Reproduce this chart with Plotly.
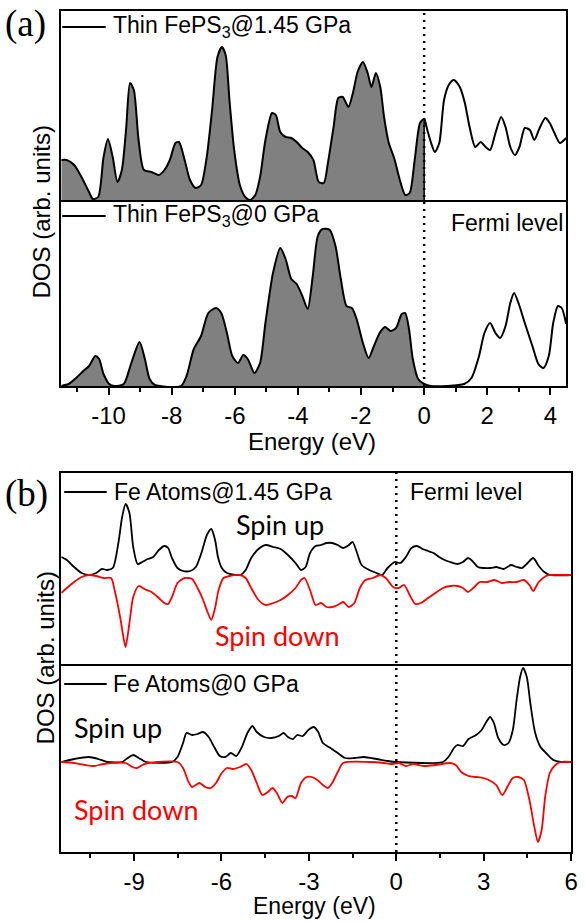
import plotly.graph_objects as go

W, H = 585, 923

# ---------------- Panel (a): total DOS of thin FePS3 ----------------
a_hp_e = [-11.5, -11.33, -11.09, -10.86, -10.62, -10.5, -10.33, -10.16, -10.02, -9.87, -9.72, -9.58,
          -9.44, -9.32, -9.2, -9.05, -8.88, -8.64, -8.41, -8.23, -8.06, -7.88, -7.77, -7.59, -7.42,
          -7.24, -7.07, -6.89, -6.72, -6.55, -6.41, -6.29, -6.17, -6.02, -5.84, -5.67, -5.52, -5.35,
          -5.2, -5.03, -4.82, -4.7, -4.56, -4.39, -4.21, -4.04, -3.86, -3.69, -3.51, -3.34, -3.18,
          -3.05, -2.87, -2.72, -2.58, -2.4, -2.25, -2.11, -1.94, -1.79, -1.67, -1.53, -1.39, -1.27,
          -1.12, -0.95, -0.77, -0.6, -0.46, -0.3, -0.13, 0.0, 0.1, 0.22, 0.34, 0.48, 0.63, 0.78,
          0.94, 1.13, 1.29, 1.44, 1.62, 1.79, 1.95, 2.09, 2.26, 2.44, 2.58, 2.73, 2.88, 3.02, 3.19,
          3.35, 3.49, 3.66, 3.84, 3.98, 4.13, 4.3, 4.5]
a_hp_dos = [42, 42, 37, 25, 10, 3, 5, 45, 63, 45, 20, 32,
            75, 119, 112, 62, 32, 30, 27, 32, 42, 59, 60, 42, 22,
            14, 17, 45, 92, 145, 155, 147, 102, 52, 17, 5, 2, 7,
            25, 62, 89, 87, 70, 65, 64, 60, 54, 50, 42, 20, 19,
            39, 75, 104, 105, 95, 110, 130, 140, 129, 115, 129, 115, 85,
            59, 44, 22, 7, 9, 42, 79, 83, 72, 59, 50, 59, 102, 117,
            122, 115, 99, 75, 55, 60, 55, 52, 69, 85, 75, 55, 47, 55, 74,
            72, 62, 74, 84, 79, 69, 59, 64]

a_0_e = [-11.5, -11.27, -11.03, -10.8, -10.62, -10.42, -10.3, -10.16, -9.98, -9.81, -9.52, -9.28,
         -9.02, -8.85, -8.7, -8.53, -7.71, -7.53, -7.3, -7.07, -6.84, -6.6, -6.43, -6.25, -6.08,
         -5.9, -5.73, -5.59, -5.38, -5.2, -5.03, -4.79, -4.56, -4.39, -4.21, -4.04, -3.86, -3.69,
         -3.53, -3.37, -3.22, -2.99, -2.81, -2.64, -2.46, -2.29, -2.14, -1.94, -1.76, -1.59, -1.41,
         -1.24, -1.06, -0.89, -0.71, -0.6, -0.48, -0.36, -0.19, 0.0, 0.22, 1.27, 1.5, 1.74, 1.91,
         2.09, 2.26, 2.41, 2.58, 2.73, 2.85, 3.0, 3.19, 3.43, 3.62, 3.78, 3.95, 4.09, 4.24, 4.36, 4.5]
a_0_dos = [0, 2, 8, 15, 20, 30, 27, 12, 2, 0, 2, 23,
           44, 27, 7, 1, 0, 10, 37, 50, 73, 78, 73, 53, 30,
           23, 31, 27, 13, 23, 63, 113, 138, 127, 107, 102, 90, 77,
           110, 150, 157, 156, 140, 107, 80, 78, 67, 43, 28, 40, 53,
           59, 55, 58, 72, 73, 57, 27, 7, 2, 0, 2, 8, 30, 53,
           63, 53, 48, 60, 83, 93, 82, 63, 40, 22, 18, 30, 63, 80, 78, 62]

# ---------------- Panel (b): Fe atoms, spin resolved ----------------
b_hp_up_e = [-11.5, -11.31, -11.06, -10.8, -10.55, -10.3, -10.11, -9.92, -9.73, -9.54, -9.41, -9.29,
             -9.16, -9.03, -8.88, -8.72, -8.53, -8.34, -8.15, -7.96, -7.83, -7.7, -7.51, -7.32,
             -7.07, -6.88, -6.69, -6.5, -6.35, -6.22, -6.12, -5.99, -5.81, -5.36, -5.17, -4.98,
             -4.73, -4.48, -4.22, -3.97, -3.72, -3.46, -3.27, -3.11, -2.96, -2.77, -2.58, -2.39,
             -2.2, -2.01, -1.82, -1.63, -1.5, -1.38, -1.19, -0.93, -0.68, -0.49, -0.3, -0.05, 0.14,
             0.33, 0.52, 0.71, 0.9, 1.09, 1.28, 1.47, 1.66, 1.85, 2.1, 2.29, 2.46, 2.61, 2.8, 2.99,
             3.24, 3.43, 3.68, 3.94, 4.13, 4.32, 4.51, 4.7, 4.89, 5.08, 5.27, 6.0]
b_hp_up = [18, 15, 8, 2, 0, 2, 6, 5, 7, 32, 58, 71,
           62, 28, 11, 13, 16, 18, 25, 29, 27, 17, 7, 4,
           4, 8, 22, 40, 46, 35, 18, 7, 2, 0, 5, 17,
           26, 30, 28, 26, 20, 12, 5, 8, 22, 29, 30, 32,
           32, 30, 27, 30, 33, 25, 10, 5, 2, 0, 7, 13, 12,
           18, 27, 29, 26, 24, 22, 18, 15, 13, 11, 13, 17, 14, 8, 7,
           7, 8, 6, 10, 8, 7, 12, 17, 9, 3, 0, 0]

b_hp_dn_e = [-11.5, -11.31, -11.06, -10.8, -10.55, -10.3, -10.05, -9.79, -9.67, -9.48, -9.35, -9.29,
             -9.16, -9.03, -8.84, -8.65, -8.4, -8.15, -7.96, -7.83, -7.7, -7.51, -7.26, -7.01,
             -6.82, -6.63, -6.48, -6.35, -6.22, -6.1, -5.93, -5.74, -5.36, -5.17, -4.98, -4.73,
             -4.48, -4.22, -3.97, -3.72, -3.46, -3.27, -3.15, -2.96, -2.77, -2.58, -2.39, -2.2,
             -2.01, -1.82, -1.63, -1.44, -1.25, -1.06, -0.81, -0.55, -0.36, -0.11, 0.08, 0.27,
             0.46, 0.65, 0.84, 1.09, 1.34, 1.6, 1.85, 2.1, 2.29, 2.46, 2.68, 2.86, 3.12, 3.37,
             3.62, 3.87, 4.13, 4.38, 4.57, 4.7, 4.89, 5.14, 5.27, 6.0]
b_hp_dn = [-18, -13, -7, -2, 0, -1, -3, -3, -15, -42, -65, -72,
           -48, -22, -11, -14, -17, -23, -28, -29, -22, -8, -3, -4,
           -13, -25, -37, -45, -33, -15, -3, -1, 0, -3, -13, -25,
           -30, -28, -25, -20, -13, -5, -3, -15, -30, -28, -32, -32,
           -30, -27, -32, -28, -13, -5, -3, 0, -3, -12, -13, -10,
           -20, -29, -28, -23, -18, -13, -11, -11, -13, -17, -12, -7, -7, -5,
           -8, -7, -7, -5, -10, -16, -7, -1, 0, 0]

b_0_up_e = [-11.5, -11.06, -10.55, -10.23, -9.92, -9.41, -9.22, -9.03, -8.84, -8.59, -7.7, -7.51,
            -7.32, -7.2, -7.01, -6.82, -6.63, -6.44, -6.25, -6.06, -5.87, -5.68, -5.49, -5.3,
            -5.11, -4.94, -4.79, -4.54, -4.29, -4.03, -3.87, -3.72, -3.55, -3.4, -3.21, -3.02,
            -2.83, -2.68, -2.52, -2.26, -2.01, -1.76, -1.44, -1.12, -0.68, -0.3, 0.0, 1.6, 1.79,
            1.98, 2.1, 2.29, 2.48, 2.74, 2.93, 3.09, 3.22, 3.35, 3.5, 3.69, 3.85, 4.0, 4.13, 4.25,
            4.35, 4.48, 4.6, 4.76, 4.95, 5.14, 5.39, 5.65, 6.0]
b_0_up = [0, 3, 5, 3, 0, 0, 4, 7, 4, 0, 0, 5,
          19, 29, 27, 28, 30, 25, 15, 6, 5, 9, 6, 15,
          29, 36, 30, 25, 24, 26, 29, 25, 23, 27, 26, 32,
          35, 30, 19, 14, 9, 4, 4, 5, 3, 1, 0, 0, 5,
          14, 17, 16, 23, 27, 32, 40, 45, 39, 24, 17, 19, 32, 62, 85,
          94, 85, 59, 30, 15, 9, 2, 0, 0]

b_0_dn_e = [-11.5, -11.06, -10.68, -10.36, -10.05, -9.29, -9.06, -8.91, -8.72, -8.53, -7.51, -7.32,
            -7.13, -7.01, -6.75, -6.56, -6.37, -6.19, -5.99, -5.81, -5.62, -5.36, -5.14, -4.98,
            -4.79, -4.6, -4.41, -4.25, -4.1, -3.91, -3.74, -3.59, -3.46, -3.27, -3.08, -2.9,
            -2.71, -2.52, -2.35, -2.2, -2.01, -1.82, -0.93, -0.43, -0.17, 0.09, 0.33, 0.58, 0.96,
            1.34, 1.85, 2.04, 2.23, 2.48, 2.74, 2.99, 3.24, 3.43, 3.64, 3.81, 4.0, 4.19, 4.38,
            4.57, 4.74, 4.86, 4.99, 5.11, 5.27, 5.46, 5.65, 6.0]
b_0_dn = [0, -1, -3, -4, -2, -1, -5, -6, -3, -1, 0, -6,
          -20, -25, -21, -25, -26, -21, -11, -6, -7, -5, -2, -8,
          -21, -33, -30, -26, -31, -41, -35, -34, -36, -21, -15, -15,
          -18, -23, -26, -21, -10, -1, 0, -1, -2, -1, -4, -2, -4,
          -3, -1, -3, -10, -14, -15, -16, -19, -23, -33, -25, -16, -15, -18,
          -38, -65, -80, -68, -35, -11, -3, 0, 0]

a_ticks = [-10, -8, -6, -4, -2, 0, 2, 4]
a_minor = [-11, -9, -7, -5, -3, -1, 1, 3]
b_ticks = [-9, -6, -3, 0, 3, 6]
b_minor = [-10.5, -7.5, -4.5, -1.5, 1.5, 4.5]

a_range = [-11.5, 4.5]
b_range = [-11.5, 6.0]


def px(x):
    return x / W


def py(y):
    return 1 - y / H


# frame geometry (pixels)
A_L, A_R, A_T, A_M, A_B = 62, 573, 11, 202, 386
B_L, B_R, B_T, B_M, B_B = 62, 578, 473, 666, 852

SANS = "Liberation Sans, Arial, sans-serif"
CAL = "Lato, Open Sans, sans-serif"
SERIF = "Liberation Serif, Times New Roman, serif"

fig = go.Figure()

SM = 0.7
# (a) top : 1.45 GPa
occ_e = [e for e in a_hp_e if e <= 0]
occ_d = a_hp_dos[:len(occ_e)]
fig.add_trace(go.Scatter(x=occ_e, y=occ_d, mode="lines", fill="tozeroy", fillcolor="#808080",
                         line=dict(width=0, shape="spline", smoothing=SM), xaxis="x", yaxis="y",
                         hoverinfo="skip"))
fig.add_trace(go.Scatter(x=a_hp_e, y=a_hp_dos, mode="lines",
                         line=dict(color="black", width=2, shape="spline", smoothing=SM),
                         xaxis="x", yaxis="y"))
# (a) bottom : 0 GPa
occ_e0 = [e for e in a_0_e if e <= 0]
occ_d0 = a_0_dos[:len(occ_e0)]
fig.add_trace(go.Scatter(x=occ_e0, y=occ_d0, mode="lines", fill="tozeroy", fillcolor="#808080",
                         line=dict(width=0, shape="spline", smoothing=SM), xaxis="x2", yaxis="y2",
                         hoverinfo="skip"))
fig.add_trace(go.Scatter(x=a_0_e, y=a_0_dos, mode="lines",
                         line=dict(color="black", width=2, shape="spline", smoothing=SM),
                         xaxis="x2", yaxis="y2"))
# (b) top : 1.45 GPa
fig.add_trace(go.Scatter(x=b_hp_up_e, y=b_hp_up, mode="lines",
                         line=dict(color="black", width=1.8, shape="spline", smoothing=SM),
                         xaxis="x3", yaxis="y3"))
fig.add_trace(go.Scatter(x=b_hp_dn_e, y=b_hp_dn, mode="lines",
                         line=dict(color="#ff0000", width=1.8, shape="spline", smoothing=SM),
                         xaxis="x3", yaxis="y3"))
# (b) bottom : 0 GPa
fig.add_trace(go.Scatter(x=b_0_up_e, y=b_0_up, mode="lines",
                         line=dict(color="black", width=1.8, shape="spline", smoothing=SM),
                         xaxis="x4", yaxis="y4"))
fig.add_trace(go.Scatter(x=b_0_dn_e, y=b_0_dn, mode="lines",
                         line=dict(color="#ff0000", width=1.8, shape="spline", smoothing=SM),
                         xaxis="x4", yaxis="y4"))

axis_common = dict(showline=True, linecolor="black", linewidth=1.5,
                   showgrid=False, zeroline=False, fixedrange=True)


def xbottom(rng, dom, ticks, minor):
    return dict(axis_common, mirror=True, range=rng, domain=dom, tickmode="array", tickvals=ticks,
                ticktext=[str(t) for t in ticks], ticks="outside", ticklen=7, tickwidth=1.5,
                tickcolor="black", tickfont=dict(family=SANS, size=24, color="black"),
                minor=dict(tickmode="array", tickvals=minor, ticks="outside", ticklen=4,
                           tickwidth=1.5, tickcolor="black"))


def xtop(rng, dom):
    # only the top frame line; the lower subplot draws the shared divider
    return dict(axis_common, mirror=False, side="top", range=rng, domain=dom,
                showticklabels=False, ticks="")


def yax(rng, dom, anchor):
    return dict(axis_common, mirror=True, range=rng, domain=dom, showticklabels=False,
                ticks="", anchor=anchor)


a_dom = [px(A_L), px(A_R)]
b_dom = [px(B_L), px(B_R)]

fig.update_layout(
    width=W, height=H, autosize=False,
    margin=dict(l=0, r=0, t=0, b=0),
    paper_bgcolor="white", plot_bgcolor="rgba(0,0,0,0)",
    showlegend=False,
    xaxis=dict(xtop(a_range, a_dom), anchor="y"),
    yaxis=yax([0, A_M - A_T], [py(A_M), py(A_T)], "x"),
    xaxis2=dict(xbottom(a_range, a_dom, a_ticks, a_minor), anchor="y2"),
    yaxis2=yax([0, A_B - A_M], [py(A_B), py(A_M)], "x2"),
    xaxis3=dict(xtop(b_range, b_dom), anchor="y3"),
    yaxis3=yax([-91, 102], [py(B_M), py(B_T)], "x3"),
    xaxis4=dict(xbottom(b_range, b_dom, b_ticks, b_minor), anchor="y4"),
    yaxis4=yax([-90, 96], [py(B_B), py(B_M)], "x4"),
)

shapes = []
# Fermi level dotted lines
shapes.append(dict(type="line", xref="x2", yref="paper", x0=0, x1=0, y0=py(A_B), y1=py(A_T),
                   line=dict(color="black", width=2.5, dash="2px,5px")))
shapes.append(dict(type="line", xref="x4", yref="paper", x0=0, x1=0, y0=py(B_B), y1=py(B_T),
                   line=dict(color="black", width=2.5, dash="2px,5px")))
# edge of the occupied-state fill at E = 0
shapes.append(dict(type="line", xref="x", yref="y", x0=0, x1=0, y0=0,
                   y1=a_hp_dos[a_hp_e.index(0.0)], line=dict(color="black", width=1.5)))
# legend line samples
for (x0, x1, y) in [(63, 107, 27), (63, 107, 216), (65, 108, 492), (65, 108, 684)]:
    shapes.append(dict(type="line", xref="paper", yref="paper", x0=px(x0), x1=px(x1),
                       y0=py(y), y1=py(y), line=dict(color="black", width=1.8)))
fig.update_layout(shapes=shapes)

ann = []


def text(x, y, s, size, family=SANS, color="black", xanchor="left", angle=0):
    ann.append(dict(x=px(x), y=py(y), xref="paper", yref="paper", text=s, showarrow=False,
                    xanchor=xanchor, yanchor="middle", textangle=angle,
                    font=dict(family=family, size=size, color=color)))


text(3, 24, "(a)", 37, SERIF)
text(3, 494, "(b)", 37, SERIF)
text(112, 27, "Thin FePS<sub>3</sub>@1.45 GPa", 23)
text(112, 216, "Thin FePS<sub>3</sub>@0 GPa", 23)
text(572, 223, "Fermi level", 23, xanchor="right")
text(113, 492, "Fe Atoms@1.45 GPa", 23)
text(413, 492, "Fermi level", 23)
text(112, 684, "Fe Atoms@0 GPa", 23)
text(237, 524, "Spin up", 27, CAL)
text(216, 635, "Spin down", 27, CAL, color="#ff0000")
text(73, 727, "Spin up", 27, CAL)
text(73, 809, "Spin down", 27, CAL, color="#ff0000")
text(316, 441, "Energy (eV)", 24, xanchor="center")
text(318, 906, "Energy (eV)", 23, xanchor="center")
text(43, 212, "DOS (arb. units)", 24, xanchor="center", angle=-90)
text(46, 658, "DOS (arb. units)", 24, xanchor="center", angle=-90)
fig.update_layout(annotations=ann)

fig.write_html("out.html")
